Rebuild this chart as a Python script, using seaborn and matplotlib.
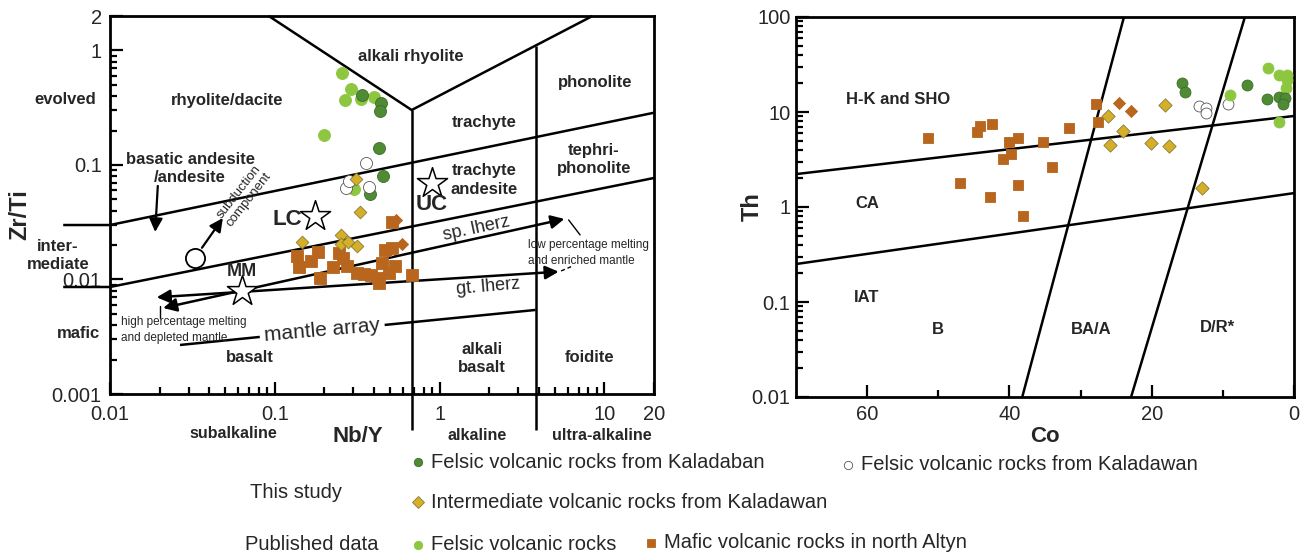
import numpy as np
import pandas as pd
import matplotlib
matplotlib.use("Agg")
import matplotlib.pyplot as plt
from matplotlib import font_manager
from matplotlib.lines import Line2D
import seaborn as sns

# ---------------------------------------------------------------- data
# Nb/Y vs Zr/Ti (left diagram)
kdb_nby = [0.337, 0.443, 0.433, 0.427, 0.453, 0.377]
kdb_zrti = [0.406, 0.350, 0.298, 0.142, 0.080, 0.056]
kdw_nby = [0.359, 0.272, 0.281, 0.373]
kdw_zrti = [0.1035, 0.0626, 0.0718, 0.0636]
int_nby = [0.310, 0.328, 0.146, 0.251, 0.251, 0.279, 0.316]
int_zrti = [0.0754, 0.0389, 0.0213, 0.0245, 0.0206, 0.0213, 0.0196]
intb_nby = [0.541, 0.589]
intb_zrti = [0.0331, 0.0204]
pub_nby = [0.256, 0.292, 0.268, 0.335, 0.398, 0.198, 0.301]
pub_zrti = [0.632, 0.458, 0.370, 0.375, 0.390, 0.183, 0.0617]
maf_nby = [0.136, 0.140, 0.165, 0.182, 0.187, 0.225, 0.244, 0.258, 0.273, 0.314,
           0.346, 0.382, 0.421, 0.427, 0.445, 0.464, 0.512, 0.534, 0.512, 0.677, 0.491]
maf_zrti = [0.0160, 0.0128, 0.0145, 0.0174, 0.0103, 0.0128, 0.0170, 0.0154, 0.0131, 0.0114,
            0.0112, 0.0109, 0.0103, 0.0093, 0.0139, 0.0181, 0.0188, 0.0131, 0.0318, 0.0109, 0.0114]

# reservoirs (Nb/Y, Zr/Ti)
res_names = ["LC", "UC", "MM"]
res_nby = [0.175, 0.894, 0.063]
res_zrti = [0.0359, 0.0696, 0.00794]

# Co vs Th (right diagram)
kdb_co = [15.7, 15.3, 6.6, 3.75, 2.07, 1.27, 1.59]
kdb_th = [20.0, 16.4, 19.2, 13.7, 14.5, 13.9, 12.1]
kdw_co = [13.3, 12.3, 12.3, 9.3]
kdw_th = [11.6, 10.9, 9.7, 12.1]
int_co = [26.2, 24.0, 25.8, 18.2, 20.1, 17.6, 12.9]
int_th = [9.14, 6.34, 4.49, 11.8, 4.75, 4.39, 1.57]
intb_co = [24.6, 22.9]
intb_th = [12.5, 10.2]
pub_co = [3.6, 2.07, 0.94, 0.94, 1.12, 9.0, 2.07]
pub_th = [29.3, 24.5, 24.5, 21.7, 17.8, 15.0, 7.9]
maf_co = [51.5, 44.1, 44.6, 42.4, 40.0, 38.8, 39.8, 40.9, 35.3, 31.6, 27.9, 27.6, 34.0,
          46.9, 38.8, 42.7, 38.1]
maf_th = [5.36, 7.18, 6.11, 7.48, 4.87, 5.36, 3.59, 3.18, 4.87, 6.84, 12.05, 7.79, 2.66,
          1.79, 1.70, 1.28, 0.80]

# field boundaries, Nb/Y - Zr/Ti
b_alkrhy_x = [0.0919, 0.677, 8.46]
b_alkrhy_y = [2.0, 0.302, 2.0]
b_alk_x = [0.677, 0.677]
b_alk_y = [0.302, 0.000485]
b_ultra_x = [3.87, 3.87]
b_ultra_y = [1.09, 0.000485]
b_evol_x = [0.0052, 0.01, 20.0]
b_evol_y = [0.0299, 0.0299, 0.286]
b_inter_x = [0.0052, 0.01, 20.0]
b_inter_y = [0.0086, 0.0086, 0.0770]
sp_x = [0.0210, 5.72]
sp_y = [0.00564, 0.0338]
gt_x = [0.0192, 5.28]
gt_y = [0.00699, 0.0117]
ma1_x = [0.0266, 0.0811]
ma1_y = [0.00268, 0.00315]
ma2_x = [0.464, 3.82]
ma2_y = [0.00401, 0.00542]

# field boundaries, Co - Th
b_hk_co = [70, 0]
b_hk_th = [2.22, 9.08]
b_ca_co = [70, 0]
b_ca_th = [0.251, 1.40]
b_ba_co = [23.9, 38.2]
b_ba_th = [100, 0.01]
b_dr_co = [6.9, 22.9]
b_dr_th = [100, 0.01]

# ---------------------------------------------------------------- style
sns.set_style("white")
names = {f.name for f in font_manager.fontManager.ttflist}
NARROW = "Liberation Sans Narrow" if "Liberation Sans Narrow" in names else "Liberation Sans"
BOLD = "Liberation Sans"
plt.rcParams["font.family"] = [NARROW, "DejaVu Sans"]

C_KDB = "#4f8a35"
C_PUB = "#8dc63f"
C_INT = "#d4af27"
C_MAF = "#b8651e"

W, H = 1306, 560
fig = plt.figure(figsize=(W / 100, H / 100), dpi=100)


def fx(px):
    return px / W


def fy(py):
    return 1 - py / H


axL = fig.add_axes([fx(110), fy(394), fx(654) - fx(110), fy(16) - fy(394)])
axR = fig.add_axes([fx(796), fy(397), fx(1294) - fx(796), fy(17) - fy(397)])


def frame(ax):
    for s in ax.spines.values():
        s.set_visible(True)
        s.set_color("black")
        s.set_linewidth(2.0)
    ax.tick_params(which="both", direction="in", top=False, right=False,
                   left=True, bottom=True, color="black", width=1.6,
                   labelsize=14.5, pad=8)
    ax.tick_params(which="major", length=9)
    ax.tick_params(which="minor", length=5)
    ax.set_xlabel("")
    ax.set_ylabel("")


def scatter_sets(ax, sets):
    for x, y, marker, fc, ec, size in sets:
        df = pd.DataFrame({"x": x, "y": y})
        sns.scatterplot(data=df, x="x", y="y", ax=ax, marker=marker, s=size,
                        color=fc, edgecolor=ec, linewidth=0.6, zorder=5, legend=False)


LINE = dict(color="black", lw=1.8, solid_capstyle="butt")

# ---------------------------------------------------------------- left diagram
axL.set_xscale("log")
axL.set_yscale("log")
axL.set_xlim(0.01, 20)
axL.set_ylim(0.001, 2)

for bx, by in [(b_alkrhy_x, b_alkrhy_y), (b_alk_x, b_alk_y), (b_ultra_x, b_ultra_y),
               (b_evol_x, b_evol_y), (b_inter_x, b_inter_y), (ma1_x, ma1_y), (ma2_x, ma2_y)]:
    axL.plot(bx, by, clip_on=False, zorder=3, **LINE)

arrow_kw = dict(arrowstyle="<|-|>", mutation_scale=20, lw=1.8, color="black",
                shrinkA=0, shrinkB=0)
axL.annotate("", xy=(sp_x[1], sp_y[1]), xytext=(sp_x[0], sp_y[0]), arrowprops=arrow_kw, zorder=4)
axL.annotate("", xy=(gt_x[1], gt_y[1]), xytext=(gt_x[0], gt_y[0]), arrowprops=arrow_kw, zorder=4)
one_kw = dict(arrowstyle="-|>", mutation_scale=20, lw=1.6, color="black", shrinkA=0, shrinkB=0)
axL.annotate("", xy=(0.0188, 0.0260), xytext=(0.0195, 0.0656), arrowprops=one_kw)
axL.annotate("", xy=(0.0484, 0.0344), xytext=(0.0327, 0.0154),
             arrowprops=dict(one_kw, shrinkA=9))
axL.scatter([0.0327], [0.0154], s=190, facecolor="white", edgecolor="black",
            linewidth=1.3, zorder=6)
# small pointers to the melting notes
axL.plot([0.0201, 0.0201], [0.00587, 0.00461], color="black", lw=1.0)
axL.plot([6.07, 7.12], [0.0331, 0.0245], color="black", lw=1.0)
axL.plot([5.46, 6.28], [0.01187, 0.01294], color="black", lw=1.0, ls=(0, (3, 2)))

scatter_sets(axL, [
    (maf_nby, maf_zrti, "s", C_MAF, C_MAF, 70),
    (intb_nby, intb_zrti, "D", C_MAF, C_MAF, 38),
    (pub_nby, pub_zrti, "o", C_PUB, C_PUB, 75),
    (kdb_nby, kdb_zrti, "o", C_KDB, "#3d6e28", 75),
    (kdw_nby, kdw_zrti, "o", "white", "#555555", 75),
    (int_nby, int_zrti, "D", C_INT, "#8a7a3a", 42),
])
axL.scatter(res_nby, res_zrti, marker="*", s=520, facecolor="white",
            edgecolor="black", linewidth=1.1, zorder=7)

axL.set_xticks([0.01, 0.1, 1, 10, 20])
axL.set_xticklabels(["0.01", "0.1", "1", "10", "20"])
axL.set_yticks([0.001, 0.01, 0.1, 1, 2])
axL.set_yticklabels(["0.001", "0.01", "0.1", "1", "2"])
frame(axL)
axL.tick_params(axis="x", pad=8)
axL.tick_params(axis="y", pad=6)

# ---------------------------------------------------------------- right diagram
axR.set_yscale("log")
axR.set_xlim(70, 0)
axR.set_ylim(0.01, 100)
for bx, by in [(b_hk_co, b_hk_th), (b_ca_co, b_ca_th), (b_ba_co, b_ba_th), (b_dr_co, b_dr_th)]:
    axR.plot(bx, by, zorder=3, **LINE)

scatter_sets(axR, [
    (maf_co, maf_th, "s", C_MAF, C_MAF, 62),
    (intb_co, intb_th, "D", C_MAF, C_MAF, 38),
    (int_co, int_th, "D", C_INT, "#8a7a3a", 46),
    (kdw_co, kdw_th, "o", "white", "#555555", 62),
    (pub_co, pub_th, "o", C_PUB, C_PUB, 62),
    (kdb_co, kdb_th, "o", C_KDB, "#3d6e28", 62),
])
axR.set_xticks([60, 40, 20, 0])
axR.set_xticks([50, 30, 10], minor=True)
axR.set_yticks([0.01, 0.1, 1, 10, 100])
axR.set_yticklabels(["0.01", "0.1", "1", "10", "100"])
frame(axR)
axR.tick_params(axis="x", pad=6)
axR.tick_params(axis="y", pad=4)

# ---------------------------------------------------------------- labels
B = dict(family=[BOLD, "DejaVu Sans"], weight="bold", ha="center", va="center")
fs = 12
for txt, px, py in [("evolved", 65, 99), ("rhyolite/dacite", 227, 100),
                    ("alkali rhyolite", 411, 57), ("phonolite", 595, 82),
                    ("trachyte", 484, 123), ("tephri-\nphonolite", 594, 160),
                    ("trachyte\nandesite", 484, 180),
                    ("basatic andesite\n/andesite", 190, 168),
                    ("inter-\nmediate", 58, 256), ("mafic", 78, 334),
                    ("basalt", 250, 357), ("alkali\nbasalt", 482, 358),
                    ("foidite", 590, 357)]:
    fig.text(fx(px), fy(py), txt, fontsize=fs, linespacing=1.25, **B)

fig.text(fx(287), fy(220), "LC", fontsize=16, **B)
fig.text(fx(432), fy(205), "UC", fontsize=16, **B)
fig.text(fx(242), fy(272), "MM", fontsize=13, **B)

N = dict(family=[NARROW, "DejaVu Sans"], ha="center", va="center")
fig.text(fx(476), fy(229), "sp. lherz", fontsize=13, rotation=12, **N)
fig.text(fx(488), fy(287), "gt. lherz", fontsize=13, rotation=5, **N)
fig.text(fx(322), fy(330), "mantle array", fontsize=15, rotation=5, **N)
NL = dict(family=[NARROW, "DejaVu Sans"], ha="left", va="center", multialignment="left")
fig.text(fx(528), fy(253), "low percentage melting\nand enriched mantle", fontsize=8.5,
         linespacing=1.35, **NL)
fig.text(fx(121), fy(330), "high percentage melting\nand depleted mantle", fontsize=8.5,
         linespacing=1.35, **NL)
fig.text(fx(244), fy(196), "subduction\ncomponent", fontsize=9.5, rotation=52,
         linespacing=1.1, **N)

fig.text(fx(20), fy(215), "Zr/Ti", fontsize=17, rotation=90, **B)
fig.text(fx(358), fy(437), "Nb/Y", fontsize=16, **B)
fig.text(fx(233), fy(433), "subalkaline", fontsize=11.5, **B)
fig.text(fx(477), fy(435), "alkaline", fontsize=11.5, **B)
fig.text(fx(602), fy(435), "ultra-alkaline", fontsize=11.5, **B)

for txt, px, py in [("H-K and SHO", 898, 100), ("CA", 867, 203), ("IAT", 867, 298),
                    ("B", 938, 329), ("BA/A", 1091, 329), ("D/R*", 1217, 328)]:
    fig.text(fx(px), fy(py), txt, fontsize=12, **B)
fig.text(fx(752), fy(207), "Th", fontsize=17, rotation=90, **B)
fig.text(fx(1045), fy(437), "Co", fontsize=16, **B)

# ---------------------------------------------------------------- legend
L = dict(family=[NARROW, "DejaVu Sans"], ha="left", va="center", fontsize=14.5)
fig.text(fx(250), fy(492), "This study", **L)
fig.text(fx(245), fy(545), "Published data", **L)
handles = [
    (418, 462, "o", C_KDB, "#3d6e28", "Felsic volcanic rocks from Kaladaban"),
    (848, 465, "o", "white", "#555555", "Felsic volcanic rocks from Kaladawan"),
    (418, 502, "D", C_INT, "#8a7a3a", "Intermediate volcanic rocks from Kaladawan"),
    (418, 545, "o", C_PUB, C_PUB, "Felsic volcanic rocks"),
    (651, 543, "s", C_MAF, C_MAF, "Mafic volcanic rocks in north Altyn"),
]
for px, py, m, fc, ec, label in handles:
    fig.add_artist(Line2D([fx(px)], [fy(py)], marker=m, markersize=6, markerfacecolor=fc,
                          markeredgecolor=ec, markeredgewidth=0.6, ls="none",
                          transform=fig.transFigure))
    fig.text(fx(px + 13), fy(py), label, **L)

fig.savefig("out.png", dpi=100, facecolor="white")
